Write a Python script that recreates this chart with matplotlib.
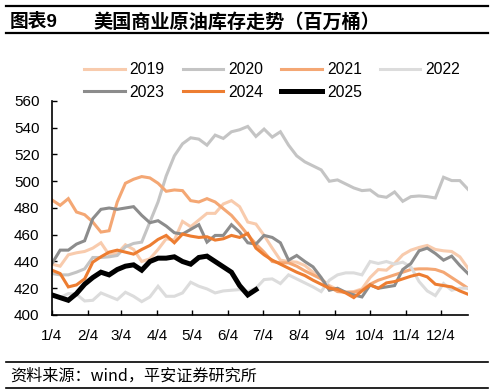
import matplotlib
matplotlib.use("Agg")
import matplotlib.pyplot as plt
from matplotlib.lines import Line2D
import numpy as np

plt.rcParams['font.family'] = ['Liberation Sans', 'Noto Sans CJK SC', 'DejaVu Sans']

tick_days = [0, 31, 59, 90, 120, 151, 181, 212, 243, 273, 304, 334]
tick_labels = ['1/4', '2/4', '3/4', '4/4', '5/4', '6/4', '7/4', '8/4', '9/4', '10/4', '11/4', '12/4']

y2019 = [438, 436.5, 445, 446.5, 447.5, 450, 454, 445, 446, 452.5, 449, 440, 442, 449, 457, 456,
         470, 466, 471, 476, 476, 483, 485.5, 481, 469.5, 468, 459.5, 450, 441, 440, 439.5, 437,
         432, 427, 422, 419, 417, 417.5, 419.5, 428, 434, 433.5, 438.5, 445, 448.5, 450.5, 452,
         449, 448, 447.5, 443.5, 435]
y2020 = [431, 430, 430, 432, 434.5, 443, 443, 443.5, 444.5, 451, 453.5, 454.5, 469.5, 484.5, 504,
         519, 528, 532.5, 531.5, 527, 534.5, 532, 537, 538.5, 541, 533.5, 539, 533, 537, 527, 519,
         514.5, 511.5, 508.5, 500, 501, 498, 495, 493, 493.5, 489, 488, 492, 485, 488.5, 489,
         488.5, 487.5, 503, 500.5, 500.5, 494]
y2021 = [486, 482, 487, 477, 475, 469.5, 462, 463, 484.5, 498.5, 501.5, 503.5, 502.5, 498.5, 492.5,
         493.5, 493, 485.5, 484.5, 487, 484.5, 479.5, 474.5, 467.5, 460, 453, 447, 440, 439, 439,
         436.5, 433, 430, 427, 421, 417.5, 417, 417, 418.5, 423, 426, 428, 430, 432, 434, 434.5,
         434.5, 434, 432, 428, 424, 420]
y2022 = [415, 413, 416, 415.5, 410.5, 411, 416.5, 414, 411.5, 417, 414, 410, 413.5, 421.5, 414, 414,
         416.5, 424.5, 421.5, 419.5, 416.5, 418, 418.5, 419, 417.5, 420, 426.5, 427, 423.5, 430,
         427, 424, 421, 417.5, 426, 430, 431.5, 431.5, 430, 440, 438.5, 440, 438, 439.5, 436, 425,
         418, 414.5, 423.5, 418.5, 420, 420]
y2023 = [438.5, 448.5, 448.5, 453, 455.5, 472, 479, 480, 479, 480, 481, 474.5, 469, 470.5, 466.5,
         461.5, 460.5, 464, 467.5, 454.5, 459.5, 459.5, 467.5, 462, 454, 453, 459.5, 458, 454, 441,
         444.5, 440, 436, 428, 418.5, 420, 417, 415, 413.5, 422.5, 420, 421, 422, 434, 438.5, 448,
         450, 446, 441, 444, 437, 431]
y2024 = [433.5, 431, 421, 422.5, 427, 439.5, 443.5, 447, 448.5, 447, 445.5, 449, 452, 456.5, 459.5,
         454, 460.5, 459, 458, 458.5, 456, 457, 459.5, 458, 461, 450, 445, 441, 438, 435, 432,
         429.5, 426, 423, 420, 419, 416.5, 413, 418, 422.5, 420, 424, 425, 427, 429, 430.5, 428.5,
         423, 422, 421, 418, 415.5]
y2025 = [415, 413, 411, 416, 423, 428, 432, 430, 434, 436.5, 437.5, 433.5, 440, 442.5, 442.5, 443.5,
         440, 438, 443, 444, 440, 436, 432, 422, 415, 419]

series = [
    ('2019', y2019, '#F8CBAD', 2.2),
    ('2020', y2020, '#C4C4C4', 2.2),
    ('2021', y2021, '#F4A774', 2.2),
    ('2022', y2022, '#DCDCDC', 2.2),
    ('2023', y2023, '#8C8C8C', 2.2),
    ('2024', y2024, '#ED7D31', 2.2),
    ('2025', y2025, '#000000', 3.6),
]

W, H = 495, 392
fig = plt.figure(figsize=(W / 100, H / 100), dpi=100)
ax = fig.add_axes([52 / W, 1 - 315 / H, (468 - 52) / W, (315 - 101) / H])

handles = {}
for name, vals, col, lw in series:
    x = np.arange(len(vals)) * 7
    ln, = ax.plot(x, vals, color=col, lw=lw, solid_joinstyle='miter', label=name)
    handles[name] = ln

ax.set_xlim(0, 357)
ax.set_ylim(400, 560)
ax.set_yticks(np.arange(400, 561, 20))
ax.set_xticks(tick_days)
ax.set_xticklabels(tick_labels)
for s in ['top', 'right']:
    ax.spines[s].set_visible(False)
for s in ['left', 'bottom']:
    ax.spines[s].set_linewidth(1.2)
    ax.spines[s].set_color('black')
ax.tick_params(axis='both', direction='in', length=3.5, width=1.0, labelsize=11, colors='black')
ax.tick_params(axis='y', pad=9)
ax.tick_params(axis='x', pad=10)

order = ['2019', '2023', '2020', '2024', '2021', '2025', '2022']
fig.legend([handles[k] for k in order], order, ncol=4, frameon=False,
           loc='upper left', bbox_to_anchor=(84 / W, 1 - 62 / H),
           fontsize=11.3, handlelength=2.6, handletextpad=0.3, columnspacing=1.15,
           labelspacing=0.5, borderpad=0, borderaxespad=0)

# header and footer
for yy, lw in [(6, 1.6), (33, 1.6), (362, 1.2), (388, 1.2)]:
    fig.add_artist(Line2D([6 / W, 488 / W], [1 - yy / H, 1 - yy / H], color='black', lw=lw))
fig.text(10 / W, 1 - 22 / H, '图表9', fontsize=13.5, fontweight='bold', va='center', ha='left',
         family=['Liberation Sans', 'Noto Sans CJK SC'])
fig.text(93 / W, 1 - 22 / H, '美国商业原油库存走势（百万桶）', fontsize=13.8, fontweight='bold',
         va='center', ha='left', family=['Noto Sans CJK SC', 'Liberation Sans'])
fig.text(10 / W, 1 - 376 / H, '资料来源：wind，平安证券研究所', fontsize=11.6, style='italic',
         va='center', ha='left', family=['Noto Sans CJK SC', 'Liberation Sans'])

fig.savefig('out.png', dpi=100)
